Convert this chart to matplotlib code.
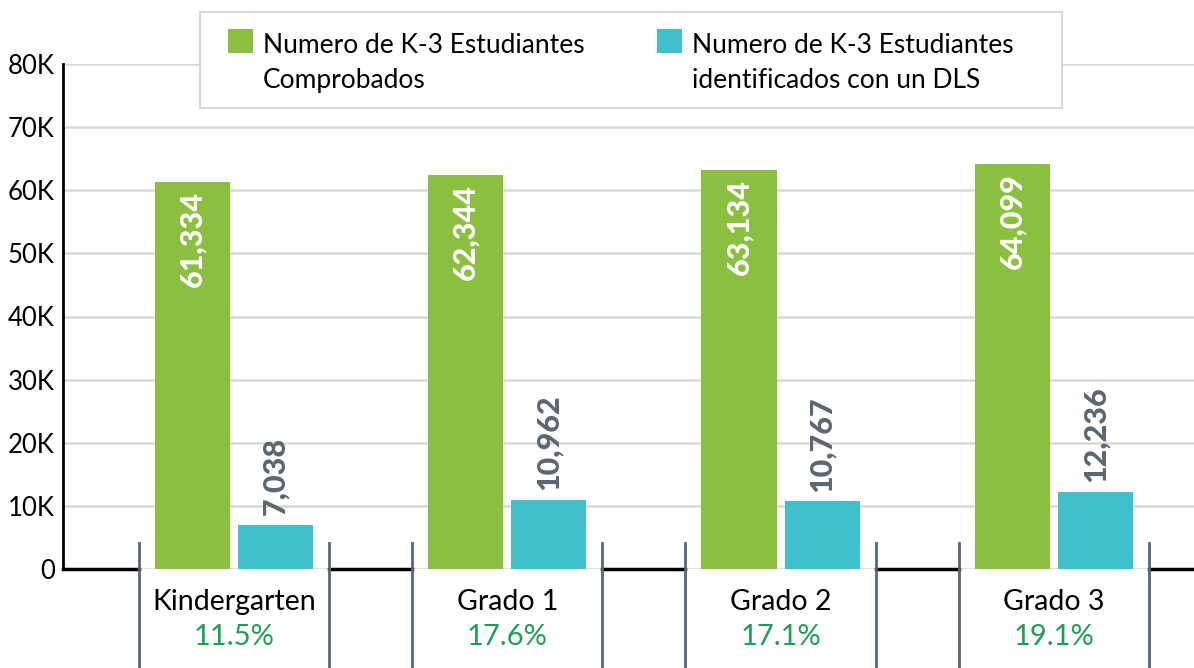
import matplotlib
matplotlib.use("Agg")
from matplotlib import pyplot as plt
from matplotlib.patches import Rectangle

plt.rcParams['font.family'] = ['Lato', 'DejaVu Sans']

categories = ["Kindergarten", "Grado 1", "Grado 2", "Grado 3"]
percentages = ["11.5%", "17.6%", "17.1%", "19.1%"]
screened = [61334, 62344, 63134, 64099]
identified = [7038, 10962, 10767, 12236]
legend_labels = ["Numero de K-3 Estudiantes\nComprobados",
                 "Numero de K-3 Estudiantes\nidentificados con un DLS"]
y_ticks = [0, 10000, 20000, 30000, 40000, 50000, 60000, 70000, 80000]
y_tick_labels = ["0", "10K", "20K", "30K", "40K", "50K", "60K", "70K", "80K"]

green = "#8BBF40"
teal = "#40C0CD"
label_gray = "#5B6670"
pct_green = "#1E9E55"
grid_gray = "#D9D9D9"

W, H = 1194, 668
fig = plt.figure(figsize=(W / 100, H / 100), dpi=100)
ax = fig.add_axes([63 / W, (H - 569) / H, (W - 63) / W, 505 / H])

x = list(range(len(categories)))
bw = 0.275
off = 0.152

ax.set_xlim(-0.626, 3.513)
ax.set_ylim(0, 80000)

for t in y_ticks:
    ax.axhline(t, color=grid_gray, lw=1.8, zorder=1)

ax.bar([i - off for i in x], screened, width=bw, color=green, zorder=2)
ax.bar([i + off for i in x], identified, width=bw, color=teal, zorder=2)

for i in x:
    ax.text(i - off, screened[i] - 1400, f"{screened[i]:,}", rotation=90,
            ha="center", va="top", color="white", fontsize=22, fontweight="black", zorder=3)
    ax.text(i + off, identified[i] + 1500, f"{identified[i]:,}", rotation=90,
            ha="center", va="bottom", color=label_gray, fontsize=22, fontweight="black", zorder=3)
    ax.text(i, -5230, categories[i], ha="center", va="center", fontsize=20.5,
            color="black", clip_on=False)
    ax.text(i, -10800, percentages[i], ha="center", va="center", fontsize=21,
            color=pct_green, clip_on=False)

# category separators and black baseline between boxes
sep = 0.348
edges = [-0.626]
for i in x:
    for s in (i - sep, i + sep):
        ax.plot([s, s], [4100, -16500], color=label_gray, lw=2, clip_on=False, zorder=4)
    edges += [i - sep, i + sep]
edges.append(3.513)
for a, b in zip(edges[::2], edges[1::2]):
    ax.plot([a, b], [0, 0], color="black", lw=2.5, clip_on=False, zorder=3)

for s in ["top", "right", "bottom"]:
    ax.spines[s].set_visible(False)
ax.spines["left"].set_linewidth(2)
ax.spines["left"].set_zorder(5)
ax.set_xticks([])
ax.set_yticks(y_ticks)
ax.set_yticklabels(y_tick_labels, fontsize=18.5)
ax.tick_params(axis="y", length=0, pad=6)

# legend box
fig.patches.append(Rectangle((200 / W, (H - 108) / H), 862 / W, 96 / H,
                             transform=fig.transFigure, facecolor="white",
                             edgecolor=grid_gray, lw=1.5, zorder=10))
for lx, c, lab in zip([228, 657], [green, teal], legend_labels):
    fig.patches.append(Rectangle((lx / W, (H - 53) / H), 25 / W, 24 / H,
                                 transform=fig.transFigure, facecolor=c,
                                 edgecolor="none", zorder=11))
    for k, line in enumerate(lab.split("\n")):
        fig.text((lx + 35) / W, (H - 53 - 35 * k) / H, line, ha="left",
                 va="baseline", fontsize=19, color="black", zorder=12)

fig.savefig("out.png", dpi=100)
